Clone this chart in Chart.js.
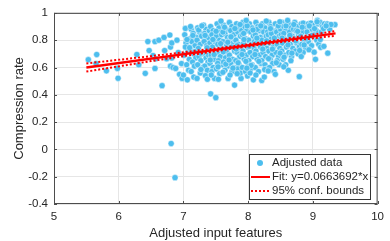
<!DOCTYPE html>
<html>
<head>
<meta charset="utf-8">
<script src="https://cdn.jsdelivr.net/npm/chart.js@4.4.1/dist/chart.umd.min.js"></script>
<style>
  html, body { margin: 0; padding: 0; background: #fff; }
  #wrap { width: 390px; height: 241px; }
</style>
</head>
<body>
<div id="wrap"><canvas id="fitChart" width="390" height="241"></canvas></div>
<script>
// scatter points: [adjusted input features, compression rate]
const adjustedData = [
  [5.53,0.657],[5.66,0.695],[5.65,0.629],[5.81,0.576],[5.98,0.593],[5.99,0.521],[6.28,0.695],[6.31,0.62],
  [6.41,0.557],[6.45,0.79],[6.47,0.724],[6.53,0.688],[6.56,0.593],[6.57,0.664],[6.56,0.79],[6.62,0.80],
  [6.67,0.467],[6.70,0.82],[6.71,0.724],[6.74,0.664],[6.79,0.838],[6.80,0.75],[6.82,0.67],[6.82,0.78],
  [6.80,0.61],[6.84,0.60],[6.88,0.593],[6.90,0.80],[6.92,0.71],[6.94,0.55],[6.97,0.629],[6.98,0.52],
  [6.81,0.043],[6.87,-0.207],
  [7.02,0.84],[7.04,0.78],[7.07,0.72],[7.01,0.69],[7.09,0.66],[7.05,0.62],[7.08,0.58],[7.03,0.75],
  [7.10,0.81],[7.06,0.51],[7.03,0.886],[7.00,0.545],
  [7.12,0.88],[7.15,0.85],[7.13,0.79],[7.18,0.76],[7.11,0.73],[7.16,0.70],[7.19,0.67],[7.14,0.64],
  [7.17,0.61],[7.12,0.57],[7.20,0.82],[7.16,0.53],[7.11,0.90],
  [7.22,0.89],[7.25,0.86],[7.28,0.83],[7.21,0.80],[7.26,0.77],[7.23,0.74],[7.29,0.71],[7.24,0.68],
  [7.27,0.65],[7.22,0.62],[7.30,0.60],[7.26,0.56],[7.21,0.52],
  [7.31,0.91],[7.35,0.88],[7.33,0.85],[7.38,0.82],[7.32,0.79],[7.36,0.76],[7.39,0.73],[7.31,0.70],
  [7.35,0.67],[7.38,0.64],[7.33,0.61],[7.37,0.58],[7.34,0.54],[7.40,0.87],[7.39,0.69],[7.37,0.514],
  [7.42,0.90],[7.46,0.87],[7.44,0.84],[7.48,0.81],[7.41,0.78],[7.45,0.75],[7.49,0.72],[7.43,0.69],
  [7.47,0.66],[7.41,0.63],[7.46,0.60],[7.44,0.57],[7.48,0.52],[7.42,0.407],[7.50,0.379],[7.49,0.79],
  [7.52,0.92],[7.55,0.89],[7.58,0.86],[7.51,0.83],[7.56,0.80],[7.53,0.77],[7.59,0.74],[7.52,0.71],
  [7.57,0.68],[7.54,0.65],[7.60,0.62],[7.51,0.59],[7.56,0.555],[7.54,0.514],[7.59,0.84],[7.53,0.63],
  [7.62,0.91],[7.66,0.88],[7.64,0.85],[7.68,0.82],[7.61,0.79],[7.67,0.76],[7.63,0.73],[7.69,0.70],
  [7.65,0.67],[7.62,0.64],[7.68,0.61],[7.64,0.58],[7.69,0.52],[7.66,0.72],[7.61,0.86],
  [7.71,0.93],[7.75,0.90],[7.73,0.87],[7.78,0.84],[7.72,0.81],[7.77,0.78],[7.74,0.75],[7.79,0.72],
  [7.71,0.69],[7.76,0.66],[7.73,0.63],[7.78,0.60],[7.75,0.57],[7.79,0.471],[7.72,0.545],[7.80,0.80],
  [7.82,0.92],[7.86,0.89],[7.84,0.86],[7.88,0.83],[7.81,0.80],[7.85,0.77],[7.89,0.74],[7.83,0.71],
  [7.87,0.68],[7.81,0.65],[7.86,0.62],[7.84,0.59],[7.89,0.52],[7.88,0.56],[7.83,0.76],[7.90,0.87],
  [7.92,0.93],[7.95,0.90],[7.98,0.87],[7.91,0.84],[7.96,0.81],[7.93,0.78],[7.99,0.75],[7.92,0.72],
  [7.97,0.69],[7.94,0.66],[8.00,0.63],[7.91,0.60],[7.96,0.57],[7.99,0.538],[7.93,0.85],
  [8.02,0.92],[8.06,0.89],[8.04,0.86],[8.08,0.83],[8.01,0.80],[8.05,0.77],[8.09,0.74],[8.03,0.71],
  [8.07,0.68],[8.01,0.65],[8.06,0.62],[8.04,0.59],[8.08,0.51],[8.10,0.79],[8.03,0.56],
  [8.12,0.93],[8.15,0.90],[8.18,0.87],[8.11,0.84],[8.16,0.81],[8.13,0.78],[8.19,0.75],[8.12,0.72],
  [8.17,0.69],[8.14,0.66],[8.20,0.63],[8.11,0.60],[8.16,0.57],[8.19,0.82],[8.14,0.88],
  [8.22,0.92],[8.26,0.89],[8.24,0.86],[8.28,0.83],[8.21,0.80],[8.25,0.77],[8.29,0.74],[8.23,0.71],
  [8.27,0.68],[8.21,0.65],[8.26,0.62],[8.21,0.505],[8.25,0.53],[8.29,0.59],[8.30,0.86],
  [8.32,0.93],[8.35,0.90],[8.38,0.87],[8.31,0.84],[8.36,0.81],[8.33,0.78],[8.39,0.75],[8.32,0.72],
  [8.37,0.69],[8.34,0.66],[8.40,0.57],[8.38,0.63],[8.33,0.60],[8.36,0.85],
  [8.42,0.92],[8.46,0.89],[8.44,0.86],[8.48,0.83],[8.41,0.80],[8.45,0.77],[8.49,0.74],[8.43,0.71],
  [8.47,0.68],[8.42,0.55],[8.45,0.65],[8.48,0.62],[8.50,0.88],
  [8.52,0.93],[8.55,0.90],[8.58,0.87],[8.51,0.84],[8.56,0.81],[8.53,0.78],[8.59,0.75],[8.52,0.72],
  [8.57,0.69],[8.54,0.66],[8.58,0.62],[8.55,0.85],
  [8.62,0.92],[8.66,0.89],[8.64,0.86],[8.68,0.83],[8.61,0.80],[8.65,0.77],[8.69,0.74],[8.63,0.71],
  [8.67,0.68],[8.62,0.58],[8.70,0.88],[8.66,0.65],
  [8.72,0.93],[8.76,0.90],[8.74,0.87],[8.78,0.84],[8.71,0.81],[8.75,0.78],[8.79,0.75],[8.73,0.72],
  [8.77,0.70],[8.79,0.533],[8.80,0.86],
  [8.82,0.92],[8.85,0.925],[8.88,0.89],[8.84,0.86],[8.81,0.83],[8.87,0.80],[8.83,0.77],[8.89,0.74],
  [8.85,0.71],[8.82,0.68],
  [8.93,0.92],[8.97,0.925],[8.95,0.89],[8.91,0.86],[8.96,0.83],[8.93,0.79],[8.98,0.76],[8.94,0.73],
  [8.99,0.88],
  [9.03,0.91],[9.07,0.945],[9.08,0.92],[9.05,0.87],[9.01,0.84],[9.06,0.80],[9.02,0.712],[9.04,0.66],
  [9.09,0.77],
  [9.11,0.93],[9.15,0.90],[9.12,0.748],[9.17,0.755],[9.18,0.92],[9.13,0.86],
  [9.22,0.919],[9.23,0.705],[9.26,0.88],[9.34,0.914],[9.28,0.915],
  // in-between points of the dense cloud
  [7.055,0.805],[7.145,0.835],[7.175,0.715],[7.235,0.875],[7.265,0.705],[7.285,0.905],[7.095,0.745],
  [7.335,0.835],[7.365,0.745],[7.415,0.655],[7.455,0.805],[7.475,0.695],[7.505,0.865],[7.535,0.605],
  [7.575,0.775],[7.615,0.715],[7.635,0.895],[7.655,0.625],[7.685,0.785],[7.705,0.655],[7.735,0.825],
  [7.765,0.595],[7.795,0.885],[7.815,0.735],[7.845,0.635],[7.875,0.915],[7.905,0.695],[7.935,0.805],
  [7.965,0.645],[7.985,0.905],[8.015,0.755],[8.045,0.615],[8.075,0.875],[8.105,0.695],[8.135,0.815],
  [8.165,0.645],[8.195,0.905],[8.225,0.735],[8.255,0.585],[8.285,0.795],[8.315,0.665],[8.345,0.885],
  [8.375,0.735],[8.405,0.815],[8.435,0.635],[8.465,0.905],[8.495,0.705],[8.525,0.815],[8.555,0.675],
  [8.585,0.905],[8.615,0.765],[8.645,0.835],[8.675,0.705],[8.705,0.915],[8.735,0.795],[8.765,0.865],
  [8.795,0.725],[8.835,0.895],[8.865,0.765],[8.905,0.815],[8.945,0.905],[8.985,0.835],[9.025,0.885],
  [9.065,0.935],[9.115,0.805],[9.165,0.885],[9.205,0.905],
  [7.58,0.94],[7.97,0.945],[8.28,0.94],[8.61,0.945],[8.49,0.935],
  [7.43,0.545],[7.61,0.565],[7.83,0.555],[8.12,0.545],[8.31,0.575],[7.27,0.585],[7.98,0.595],[8.55,0.605]
];

// fitted line and 95% bounds, read at a few x positions
const fitX = [5.5, 9.35];
const fitY = [0.600, 0.850];
const boundX = [5.5, 6.5, 7.5, 8.0, 8.5, 9.35];
const upperY = [0.630, 0.683, 0.740, 0.770, 0.804, 0.867];
const lowerY = [0.570, 0.647, 0.720, 0.754, 0.786, 0.833];

const legendLabels = ['Adjusted data', 'Fit: y=0.0663692*x', '95% conf. bounds'];

const FONT = "'Liberation Sans', Arial, Helvetica, sans-serif";
const DOT_COLOR = '#4DBEEE';
const AXIS_COLOR = '#262626';

function pairs(xs, ys) {
    return xs.map((x, i) => ({ x: x, y: ys[i] }));
}

// MATLAB-ish box, inward ticks and the legend
const boxPlugin = {
    id: 'boxPlugin',
    afterDraw(chart) {
        const ctx = chart.ctx;
        const a = chart.chartArea;
        const xs = chart.scales.x;
        const ys = chart.scales.y;
        ctx.save();
        ctx.strokeStyle = '#4d4d4d';
        ctx.lineWidth = 1;
        ctx.strokeRect(a.left + 0.5, a.top + 0.5, a.right - a.left - 1, a.bottom - a.top - 1);
        ctx.beginPath();
        xs.ticks.forEach(t => {
            const px = Math.round(xs.getPixelForValue(t.value)) + 0.5;
            ctx.moveTo(px, a.bottom); ctx.lineTo(px, a.bottom - 3);
            ctx.moveTo(px, a.top); ctx.lineTo(px, a.top + 3);
        });
        ys.ticks.forEach(t => {
            const py = Math.round(ys.getPixelForValue(t.value)) + 0.5;
            ctx.moveTo(a.left, py); ctx.lineTo(a.left + 3, py);
            ctx.moveTo(a.right, py); ctx.lineTo(a.right - 3, py);
        });
        ctx.stroke();

        // legend box
        const lx = 249.5, ly = 154.5, lw = 121, lh = 45;
        ctx.fillStyle = '#fff';
        ctx.fillRect(lx, ly, lw, lh);
        ctx.strokeStyle = '#333';
        ctx.strokeRect(lx, ly, lw, lh);
        const rows = [163, 177, 191];
        ctx.fillStyle = DOT_COLOR;
        ctx.beginPath();
        ctx.arc(260, rows[0], 3, 0, Math.PI * 2);
        ctx.fill();
        ctx.strokeStyle = '#ff0000';
        ctx.lineWidth = 2;
        ctx.beginPath();
        ctx.moveTo(251, rows[1]); ctx.lineTo(270, rows[1]);
        ctx.stroke();
        ctx.setLineDash([2, 2]);
        ctx.beginPath();
        ctx.moveTo(251, rows[2]); ctx.lineTo(270, rows[2]);
        ctx.stroke();
        ctx.setLineDash([]);
        ctx.fillStyle = AXIS_COLOR;
        ctx.font = '11.5px ' + FONT;
        ctx.textBaseline = 'middle';
        legendLabels.forEach((txt, i) => ctx.fillText(txt, 272, rows[i]));
        ctx.restore();
    }
};

const ctx = document.getElementById('fitChart').getContext('2d');
new Chart(ctx, {
    type: 'scatter',
    data: {
        datasets: [
            {
                label: legendLabels[0],
                data: adjustedData.map(p => ({ x: p[0], y: p[1] })),
                backgroundColor: DOT_COLOR,
                borderColor: 'rgba(255,255,255,0.8)',
                borderWidth: 0.6,
                pointRadius: 3.1,
                order: 3
            },
            {
                label: legendLabels[1],
                data: pairs(fitX, fitY),
                showLine: true,
                borderColor: '#ff0000',
                borderWidth: 2.5,
                pointRadius: 0,
                order: 1
            },
            {
                label: legendLabels[2],
                data: pairs(boundX, upperY),
                showLine: true,
                borderColor: '#ff0000',
                borderWidth: 2,
                borderDash: [2, 2],
                pointRadius: 0,
                order: 2
            },
            {
                label: legendLabels[2],
                data: pairs(boundX, lowerY),
                showLine: true,
                borderColor: '#ff0000',
                borderWidth: 2,
                borderDash: [2, 2],
                pointRadius: 0,
                order: 2
            }
        ]
    },
    options: {
        responsive: false,
        animation: false,
        devicePixelRatio: 1,
        layout: { padding: { top: 8, right: 10, left: 0, bottom: 0 } },
        plugins: {
            legend: { display: false },
            tooltip: { enabled: false }
        },
        scales: {
            x: {
                type: 'linear',
                min: 5,
                max: 10,
                ticks: { stepSize: 1, color: AXIS_COLOR, font: { family: FONT, size: 11.5 }, padding: 6 },
                grid: { color: '#e6e6e6', drawTicks: false },
                border: { display: false },
                title: {
                    display: true,
                    text: 'Adjusted input features',
                    color: AXIS_COLOR,
                    font: { family: FONT, size: 13 },
                    padding: { top: 0, bottom: 0 }
                },
                afterFit: s => { s.height = 37; }
            },
            y: {
                type: 'linear',
                min: -0.4,
                max: 1,
                ticks: {
                    stepSize: 0.2,
                    color: AXIS_COLOR,
                    font: { family: FONT, size: 11.5 },
                    padding: 6,
                    callback: v => String(Number(v.toFixed(1)))
                },
                grid: { color: '#e6e6e6', drawTicks: false },
                border: { display: false },
                title: {
                    display: true,
                    text: 'Compression rate',
                    color: AXIS_COLOR,
                    font: { family: FONT, size: 13 },
                    padding: { top: 12, bottom: 12 }
                },
                afterFit: s => { s.width = 54; }
            }
        }
    },
    plugins: [boxPlugin]
});
</script>
</body>
</html>
